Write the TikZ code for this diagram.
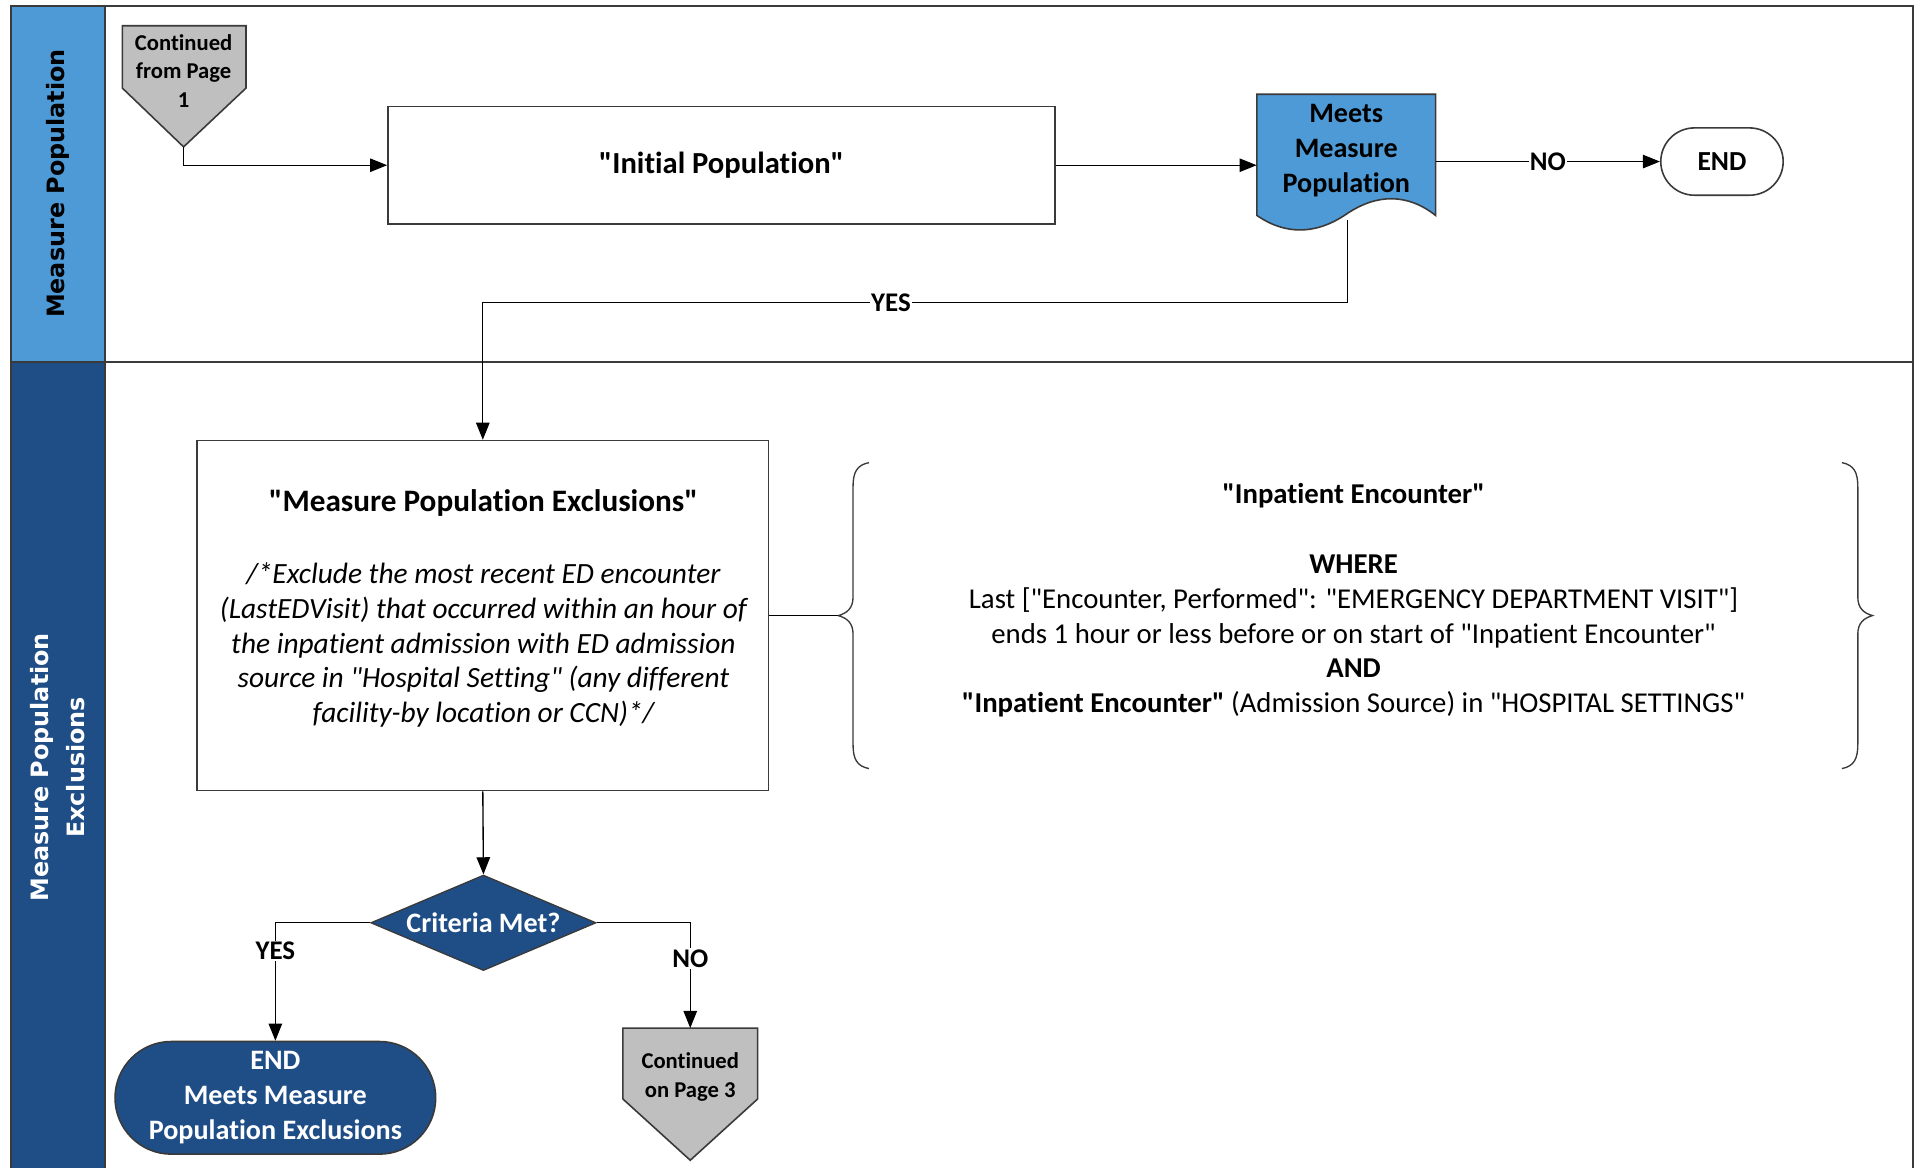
\documentclass[tikz,border=0pt]{standalone}
\usepackage{fontspec}
\setmainfont{Carlito}[Ligatures={TeXOff,NoCommon}]
\newfontfamily\hdrfont{DejaVu Sans}
\usetikzlibrary{shapes.geometric,shapes.misc,arrows.meta}
\definecolor{lblue}{HTML}{4E9AD6}
\definecolor{dblue}{HTML}{1F4E87}
\definecolor{cgray}{HTML}{BFBFBF}
\definecolor{edgec}{HTML}{3A3A3A}
\begin{document}
\begin{tikzpicture}[x=1pt,y=-1pt,
  arr/.style={draw=black,line width=1.1pt,-{Triangle[length=14pt,width=11pt]}},
  plain/.style={draw=black,line width=1.1pt},
  box/.style={draw=edgec,line width=1.3pt,fill=white,inner sep=0pt},
  lbl/.style={fill=white,inner sep=1pt,font=\bfseries\fontsize{22}{24}\selectfont},
  hdr/.style={rotate=90,font=\hdrfont\bfseries\fontsize{19.5}{29}\selectfont,align=center},
  conttxt/.style={align=center,font=\bfseries\fontsize{18.5}{23.5}\selectfont,inner sep=0pt},
  body/.style={align=center,font=\fontsize{23.5}{28.5}\selectfont,inner sep=0pt}]
\useasboundingbox (0,0) rectangle (1568,954);
\fill[white] (0,0) rectangle (1568,954);
% lanes
\fill[lblue] (9,5) rectangle (86,296);
\fill[dblue] (9,296) rectangle (86,970);
\draw[edgec,line width=1.5pt] (9,5) rectangle (1563,970);
\draw[edgec,line width=1.5pt] (9,296) -- (1563,296);
\draw[edgec,line width=1.5pt] (86,5) -- (86,970);
\node[hdr,text=black] (h1) at (47,150) {Measure Population};
\node[hdr,text=white] (h2) at (47,627) {Measure Population\\Exclusions};
% continued from page 1
\draw[box,fill=cgray] (100,21) -- (201,21) -- (201,72) -- (150,120) -- (100,72) -- cycle;
\node[conttxt] (c1) at (150,58) {Continued\\from Page\\1};
\coordinate (c1tip) at (150,120);
% initial population
\node[box,minimum width=545pt,minimum height=96pt,font=\bfseries\fontsize{25}{29}\selectfont] (ip) at (589.5,135) {"Initial Population"};
% document shape
\draw[box,fill=lblue] (1027,77) -- (1173,77) -- (1173,176)
  .. controls (1150,158) and (1125,158) .. (1100,175)
  .. controls (1075,192) and (1050,192) .. (1027,176) -- cycle;
\node[body,font=\bfseries\fontsize{23}{28.5}\selectfont,minimum width=146pt,minimum height=100pt] (mmp) at (1100,123) {Meets\\Measure\\Population};
\coordinate (mmpb) at (1101,180);
% end 1
\node[box,rounded rectangle,minimum width=100pt,minimum height=55pt,font=\bfseries\fontsize{22.5}{25}\selectfont] (end1) at (1407,132) {END};
% exclusions box
\node[box,minimum width=467pt,minimum height=286pt] (exc) at (394.5,503) {};
\node[body,font=\bfseries\fontsize{25.5}{29}\selectfont] (excT) at (395,411) {"Measure Population Exclusions"};
\node[body,font=\itshape\fontsize{24}{28.5}\selectfont] (excB) at (395,527) {/*Exclude the most recent ED encounter\\(LastEDVisit) that occurred within an hour of\\the inpatient admission with ED admission\\source in "Hospital Setting" (any different\\facility-by location or CCN)*/};
% braces
\coordinate (lbt) at (685,503);
\draw[edgec,line width=1.1pt] (710,378) .. controls (700,380) and (697,386) .. (697,398) -- (697,488)
  .. controls (697,497) and (692,501) .. (lbt)
  .. controls (692,505) and (697,509) .. (697,518) -- (697,608)
  .. controls (697,620) and (700,626) .. (710,628);
\draw[edgec,line width=1.1pt] (1505,378) .. controls (1515,380) and (1518,386) .. (1518,398) -- (1518,488)
  .. controls (1518,497) and (1523,501) .. (1530,503)
  .. controls (1523,505) and (1518,509) .. (1518,518) -- (1518,608)
  .. controls (1518,620) and (1515,626) .. (1505,628);
\node[body] (inp) at (1106,490.5) {\textbf{"Inpatient Encounter"}\\[28.5pt]\textbf{WHERE}\\Last ["Encounter, Performed": "EMERGENCY DEPARTMENT VISIT"]\\ends 1 hour or less before or on start of "Inpatient Encounter"\\\textbf{AND}\\\textbf{"Inpatient Encounter"} (Admission Source) in "HOSPITAL SETTINGS"};
% decision
\node[diamond,draw=edgec,line width=1.1pt,fill=dblue,text=white,aspect=2.36,minimum width=184pt,minimum height=78pt,inner sep=0pt,font=\bfseries\fontsize{23}{25}\selectfont] (crit) at (395,754) {Criteria Met?};
% end 2
\node[box,fill=dblue,text=white,rounded rectangle,minimum width=262pt,minimum height=92pt,align=center,font=\bfseries\fontsize{23}{28.5}\selectfont] (end2) at (225,897) {END\\Meets Measure\\Population Exclusions};
% continued on page 3
\draw[box,fill=cgray] (509,840) -- (619,840) -- (619,898) -- (564,948) -- (509,898) -- cycle;
\node[conttxt] (c2) at (564,880) {Continued\\on Page 3};
\coordinate (c2top) at (564,840);
% connectors
\draw[arr] (c1tip) |- (ip.west);
\draw[arr] (ip.east) -- (mmp.west |- ip.east);
\draw[arr] (mmp.east |- end1.west) -- node[lbl]{NO} (end1.west);
\draw[arr] (mmpb) -- (1101,247) -| node[lbl,pos=0.264]{YES} (exc.north);
\draw[arr] (exc.south) -- (crit.north);
\draw[plain] (exc.east) -- (lbt);
\draw[arr] (crit.west) -| node[lbl,pos=0.62]{YES} (end2.north);
\draw[arr] (crit.east) -| node[lbl,pos=0.67]{NO} (c2top);
\end{tikzpicture}
\end{document}
